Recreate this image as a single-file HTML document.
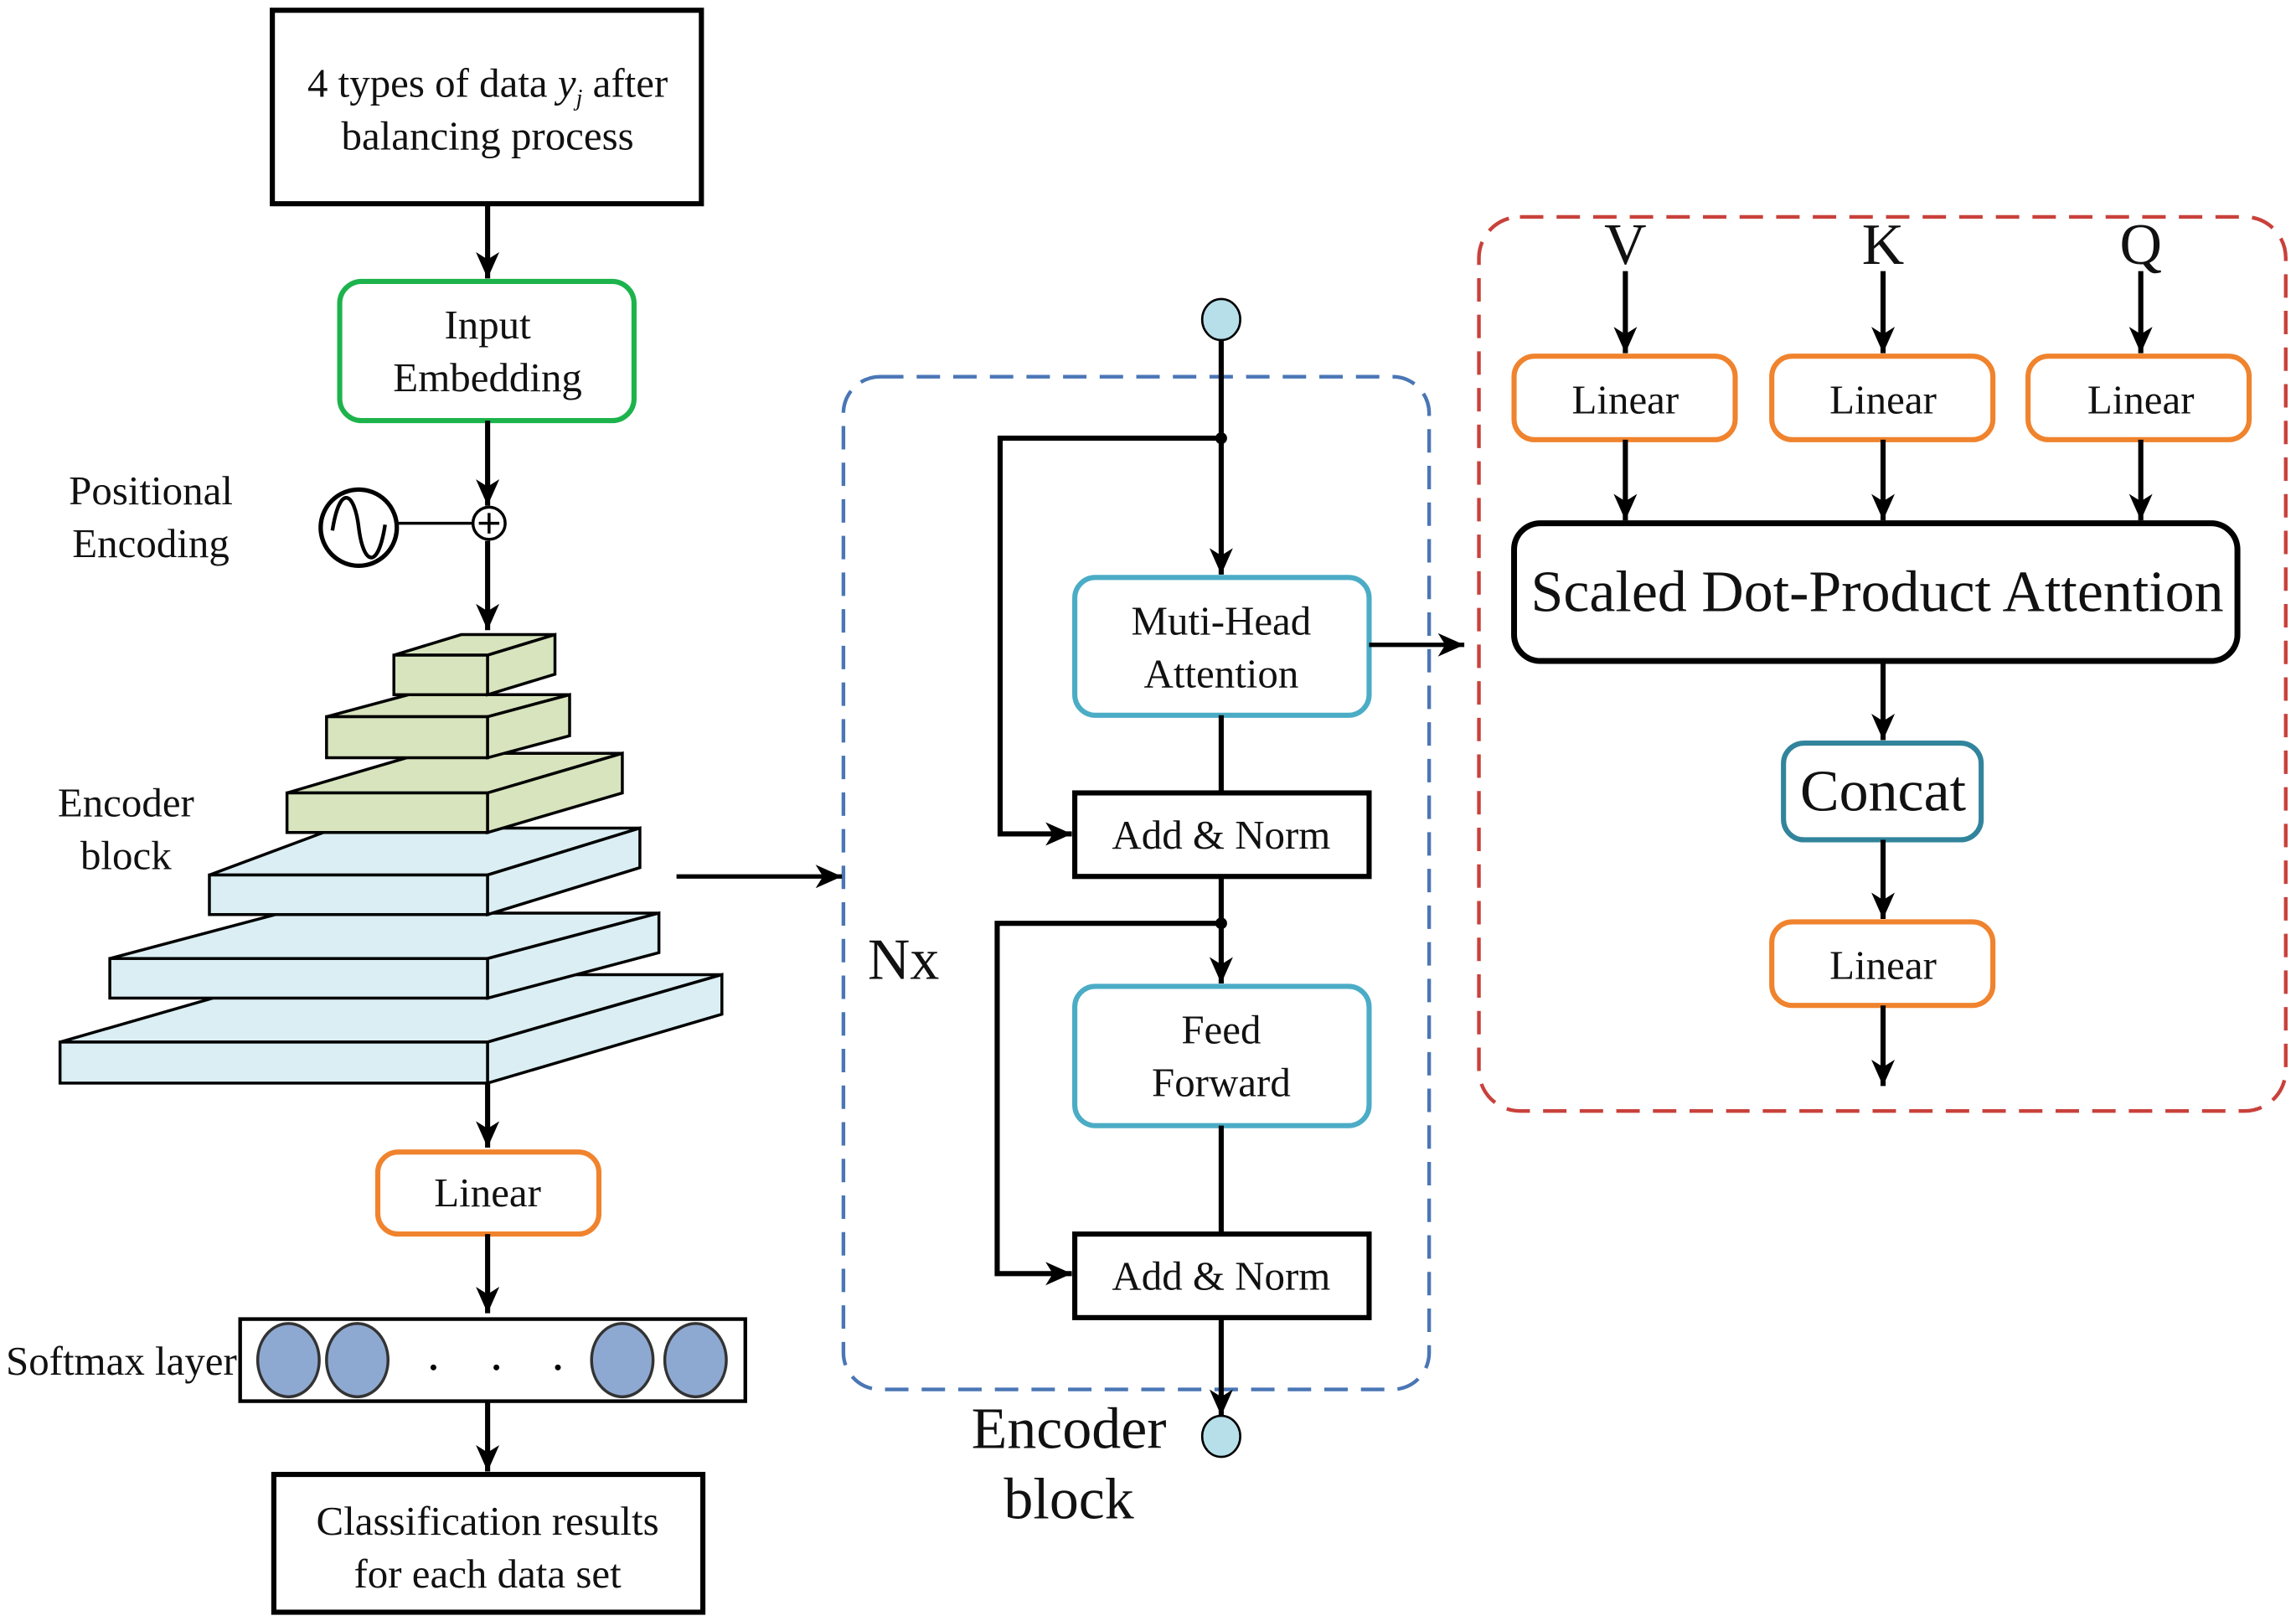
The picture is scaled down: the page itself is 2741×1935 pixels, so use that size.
<!DOCTYPE html>
<html><head><meta charset="utf-8"><style>
html,body{margin:0;padding:0;background:#fff;}
svg{display:block;}
text{font-family:"Liberation Serif",serif;fill:#111;}
</style></head><body>
<svg width="2741" height="1935" viewBox="0 0 1568 1106" preserveAspectRatio="none" xmlns="http://www.w3.org/2000/svg">
<defs>
<marker id="ar" markerWidth="10" markerHeight="10" refX="8" refY="5" orient="auto" markerUnits="userSpaceOnUse">
<path d="M0,0 L10,5 L0,10 L3,5 z" fill="#000"/>
</marker>
<marker id="ar2" markerWidth="20" markerHeight="16" refX="18" refY="8" orient="auto" markerUnits="userSpaceOnUse">
<path d="M0,0 L18,8 L0,16 L5,8 z" fill="#000"/>
</marker>
</defs>
<g stroke="#000" stroke-width="3.5" fill="none">
<rect x="186" y="7" width="293" height="132"/>
<rect x="187" y="1006" width="293" height="94"/>
<rect x="164" y="900" width="345" height="56" stroke-width="2.5"/>
<rect x="734" y="541" width="201" height="57"/>
<rect x="734" y="842" width="201" height="57"/>
<rect x="1034" y="357" width="494" height="94" rx="18" stroke-width="4"/>
</g>
<g fill="none" stroke-width="3.5">
<rect x="232" y="192" width="201" height="95" rx="15" stroke="#1db34c"/>
<rect x="258" y="786" width="151" height="56" rx="14" stroke="#f0832d"/>
<rect x="1034" y="243" width="151" height="57" rx="14" stroke="#f0832d"/>
<rect x="1210" y="243" width="151" height="57" rx="14" stroke="#f0832d"/>
<rect x="1385" y="243" width="151" height="57" rx="14" stroke="#f0832d"/>
<rect x="1210" y="629" width="151" height="57" rx="14" stroke="#f0832d"/>
<rect x="734" y="394" width="201" height="94" rx="14" stroke="#4bacc6"/>
<rect x="734" y="673" width="201" height="95" rx="14" stroke="#4bacc6"/>
<rect x="1218" y="507" width="135" height="66" rx="14" stroke="#31849b"/>
<rect x="576" y="257" width="400" height="691" rx="25" stroke="#4a76b5" stroke-width="2.5" stroke-dasharray="16,9"/>
<rect x="1010" y="148" width="551" height="610" rx="28" stroke="#c9413b" stroke-width="2.5" stroke-dasharray="16,9"/>
</g>
<!-- stacked blocks -->
<g stroke="#000" stroke-width="2">
<g fill="#daeef3">
<polygon points="41,711 201,665 493,665 333,711"/><rect x="41" y="711" width="292" height="28"/><polygon points="333,711 493,665 493,692 333,739"/>
<polygon points="75,654 192,623 450,623 333,654"/><rect x="75" y="654" width="258" height="27"/><polygon points="333,654 450,623 450,650 333,681"/>
<polygon points="143,597 229,565 437,565 333,597"/><rect x="143" y="597" width="190" height="27"/><polygon points="333,597 437,565 437,592 333,624"/>
</g>
<g fill="#d7e4bd">
<polygon points="196,541 288,514 425,514 333,541"/><rect x="196" y="541" width="137" height="27"/><polygon points="333,541 425,514 425,541 333,568"/>
<polygon points="223,489 279,474 389,474 333,489"/><rect x="223" y="489" width="110" height="28"/><polygon points="333,489 389,474 389,502 333,517"/>
<polygon points="269,447 315,433 379,433 333,447"/><rect x="269" y="447" width="64" height="27"/><polygon points="333,447 379,433 379,460 333,474"/>
</g>
</g>
<!-- arrows -->
<g stroke="#000" stroke-width="3.5" fill="none" marker-end="url(#ar2)">
<line x1="333" y1="139" x2="333" y2="190"/>
<line x1="333" y1="287" x2="333" y2="345"/>
<line x1="333" y1="369" x2="333" y2="430"/>
<line x1="333" y1="739" x2="333" y2="783"/>
<line x1="333" y1="842" x2="333" y2="896"/>
<line x1="333" y1="956" x2="333" y2="1004"/>
<line x1="462" y1="598" x2="575" y2="598" stroke-width="3"/>
<line x1="834" y1="232" x2="834" y2="392"/>
<polyline points="834,299 683,299 683,569 732,569"/>
<line x1="834" y1="598" x2="834" y2="671"/>
<polyline points="834,630 681,630 681,869 732,869"/>
<line x1="834" y1="899" x2="834" y2="966"/>
<line x1="935" y1="440" x2="1000" y2="440" stroke-width="3"/>
<line x1="1110" y1="185" x2="1110" y2="241"/>
<line x1="1286" y1="185" x2="1286" y2="241"/>
<line x1="1462" y1="185" x2="1462" y2="241"/>
<line x1="1110" y1="300" x2="1110" y2="355"/>
<line x1="1286" y1="300" x2="1286" y2="355"/>
<line x1="1462" y1="300" x2="1462" y2="355"/>
<line x1="1286" y1="451" x2="1286" y2="505"/>
<line x1="1286" y1="573" x2="1286" y2="627"/>
<line x1="1286" y1="686" x2="1286" y2="741"/>
</g>
<g stroke="#000" stroke-width="3.5">
<line x1="834" y1="488" x2="834" y2="541"/>
<line x1="834" y1="768" x2="834" y2="842"/>
<line x1="271" y1="357" x2="323" y2="357" stroke-width="2"/>
</g>
<circle cx="834" cy="299" r="4" fill="#000"/>
<circle cx="834" cy="630" r="4" fill="#000"/>
<ellipse cx="834" cy="218" rx="13" ry="14" fill="#b7dfea" stroke="#000" stroke-width="1.5"/>
<ellipse cx="834" cy="980" rx="13" ry="14" fill="#b7dfea" stroke="#000" stroke-width="1.5"/>
<circle cx="334" cy="357" r="11" fill="#fff" stroke="#000" stroke-width="2"/>
<path d="M334,350 v14 M327,357 h14" stroke="#000" stroke-width="2"/>
<circle cx="245" cy="360" r="26" fill="#fff" stroke="#000" stroke-width="3"/>
<path d="M227,362 C232,330 242,335 245,360 C248,385 258,390 263,358" fill="none" stroke="#000" stroke-width="2.5"/>
<g fill="#8ea9d1" stroke="#333" stroke-width="2">
<ellipse cx="197" cy="928" rx="21" ry="25"/><ellipse cx="244" cy="928" rx="21" ry="25"/>
<ellipse cx="425" cy="928" rx="21" ry="25"/><ellipse cx="475" cy="928" rx="21" ry="25"/>
</g>
<g fill="#000"><circle cx="296" cy="933" r="2"/><circle cx="339" cy="933" r="2"/><circle cx="381" cy="933" r="2"/></g>
<!-- text -->
<g font-size="28" text-anchor="middle">
<text x="333" y="66">4 types of data <tspan font-style="italic">y</tspan><tspan font-style="italic" font-size="16" dy="6">j</tspan><tspan dy="-6"> after</tspan></text>
<text x="333" y="102">balancing process</text>
<text x="333" y="231">Input</text><text x="333" y="267">Embedding</text>
<text x="103" y="344">Positional</text><text x="103" y="380">Encoding</text>
<text x="86" y="557">Encoder</text><text x="86" y="593">block</text>
<text x="333" y="823">Linear</text>
<text x="333" y="1047">Classification results</text><text x="333" y="1083">for each data set</text>
<text x="834" y="433">Muti-Head</text><text x="834" y="469">Attention</text>
<text x="834" y="579">Add &amp; Norm</text>
<text x="834" y="712">Feed</text><text x="834" y="748">Forward</text>
<text x="834" y="880">Add &amp; Norm</text>
<text x="1110" y="282">Linear</text><text x="1286" y="282">Linear</text><text x="1462" y="282">Linear</text>
<text x="1286" y="668">Linear</text>
</g>
<text x="4" y="938" font-size="28">Softmax layer</text>
<g font-size="40" text-anchor="middle">
<text x="617" y="668">Nx</text>
<text x="730" y="988">Encoder</text><text x="730" y="1036">block</text>
<text x="1110" y="180">V</text><text x="1286" y="180">K</text><text x="1462" y="180">Q</text>
<text x="1282" y="417">Scaled Dot-Product Attention</text>
<text x="1286" y="553">Concat</text>
</g>
</svg>
</body></html>
